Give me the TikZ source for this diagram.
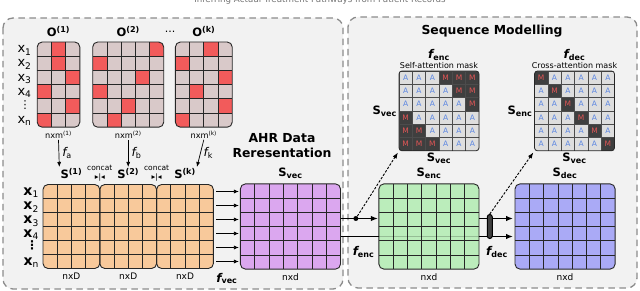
\documentclass[tikz,border=0pt]{standalone}
\usepackage{fontspec}
\setmainfont{DejaVu Sans}
\usepackage{xcolor}
\usepackage{tikz}
\usetikzlibrary{arrows.meta, positioning, calc}

\definecolor{panelfill}{HTML}{F2F2F2}
\definecolor{obase}{HTML}{D9C9C9}
\definecolor{ohot}{HTML}{F25B5B}
\definecolor{sorange}{HTML}{F8C99B}
\definecolor{vpurple}{HTML}{DBA7EF}
\definecolor{egreen}{HTML}{BBEDBB}
\definecolor{dblue}{HTML}{AAAAF6}
\definecolor{opengray}{HTML}{DEDEDE}
\definecolor{maskgray}{HTML}{3F3F3F}
\definecolor{openletter}{HTML}{5A85E2}
\definecolor{maskletter}{HTML}{E25656}

% inner grid lines of a matrix node: name, columns, rows, cell width, cell height
\newcommand{\cellgrid}[5]{%
  \pgfmathtruncatemacro\gridcols{#2-1}%
  \pgfmathtruncatemacro\gridrows{#3-1}%
  \foreach \i in {1,...,\gridcols}
    \draw[gridline] ([xshift=\i*#4]#1.north west) -- ([xshift=\i*#4]#1.south west);
  \foreach \j in {1,...,\gridrows}
    \draw[gridline] ([yshift=-\j*#5]#1.north west) -- ([yshift=-\j*#5]#1.north east);
}
% one red cell of an O matrix: name, column, row
\newcommand{\hotcell}[3]{\fill[ohot] ([shift={(#2*14.2,#3*14.2)}]#1.north west) rectangle ++(14.2,14.2);}

\begin{document}
\begin{tikzpicture}[x=1pt, y=-1pt,
    panel/.style={draw=black!45, fill=panelfill, line width=1.3pt, dash pattern=on 6.5pt off 4.5pt, rounded corners=10pt},
    mat/.style={inner sep=0pt, outer sep=0pt, rounded corners=5pt},
    border/.style={draw=black!85, line width=0.9pt, rounded corners=5pt},
    gridline/.style={black!85, line width=0.75pt},
    big/.style={font=\fontsize{11.5}{13}\selectfont\bfseries, inner sep=1pt},
    head/.style={font=\fontsize{12.4}{15}\selectfont\bfseries, align=center, inner sep=0pt},
    rowlbl/.style={font=\fontsize{13}{14}\selectfont, inner sep=0pt, anchor=base east},
    vdot/.style={font=\fontsize{11}{11}\selectfont, inner sep=0pt},
    dim/.style={font=\fontsize{9}{10}\selectfont, inner sep=1pt},
    tiny/.style={font=\fontsize{7.5}{8.5}\selectfont, inner sep=0.5pt, align=center},
    flbl/.style={font=\fontsize{12}{13}\selectfont, inner sep=1pt},
    opencell/.style={draw=black!70, line width=0.5pt, fill=opengray, text=openletter, minimum size=13.3pt, inner sep=0pt, font=\fontsize{7.5}{8}\selectfont},
    maskedcell/.style={opencell, fill=maskgray, text=maskletter},
    farr/.style={-{Latex[length=5pt, width=4pt]}, line width=0.7pt},
    arr/.style={-{Latex[length=7pt, width=5.5pt]}, line width=1.3pt},
    dasharr/.style={-{Latex[length=6pt, width=4.5pt]}, line width=0.9pt, dash pattern=on 2.5pt off 1.5pt},
    dot/.style={circle, fill=black, inner sep=0pt, minimum size=5pt},
    gate/.style={draw=black, fill=black!75, line width=1pt, rounded corners=2.5pt, minimum width=5pt, minimum height=24pt, inner sep=0pt}]

  \useasboundingbox (0,0) rectangle (640,291);
  \node[font=\fontsize{8.7}{10}\selectfont, text=black!55, anchor=base] (caption) at (320,3) {Inferring Actual Treatment Pathways from Patient Records};

  % panels
  \draw[panel] (3,18) rectangle (343,289);
  \draw[panel] (348,17) rectangle (637,288);

  % one-hot matrices O
  \node[mat, fill=obase, minimum width=42.6, minimum height=85.2] (o1) at (58.5,84.6) {};
  \node[mat, fill=obase, minimum width=71, minimum height=85.2, right=12.9pt of o1] (o2) {};
  \node[mat, fill=obase, minimum width=56.8, minimum height=85.2, right=11.7pt of o2] (ok) {};
  \begin{scope}
    \clip[rounded corners=5pt] (o1.north west) rectangle (o1.south east);
    \foreach \c/\r in {1/0,1/1,2/2,0/3,2/4,0/5} \hotcell{o1}{\c}{\r};
  \end{scope}
  \begin{scope}
    \clip[rounded corners=5pt] (o2.north west) rectangle (o2.south east);
    \foreach \c/\r in {4/0,0/1,3/2,0/3,2/4,1/5} \hotcell{o2}{\c}{\r};
  \end{scope}
  \begin{scope}
    \clip[rounded corners=5pt] (ok.north west) rectangle (ok.south east);
    \foreach \c/\r in {2/0,0/1,3/2,1/3,3/4,0/5} \hotcell{ok}{\c}{\r};
  \end{scope}
  \cellgrid{o1}{3}{6}{14.2}{14.2}
  \cellgrid{o2}{5}{6}{14.2}{14.2}
  \cellgrid{ok}{4}{6}{14.2}{14.2}
  \foreach \m in {o1,o2,ok}
    \draw[border] (\m.north west) rectangle (\m.south east);

  \node[big, above=4pt of o1] (o1lbl) {O\textsuperscript{(1)}};
  \node[big, above=4pt of o2] (o2lbl) {O\textsuperscript{(2)}};
  \node[big, above=4pt of ok] (oklbl) {O\textsuperscript{(k)}};
  \node[font=\fontsize{11}{12}\selectfont] (odots) at (170,32) {...};
  \node[dim, font=\fontsize{8.2}{9}\selectfont, below=3pt of o1] (o1dim) {nxm\textsuperscript{(1)}};
  \node[dim, font=\fontsize{8.2}{9}\selectfont, below=3pt of o2] (o2dim) {nxm\textsuperscript{(2)}};
  \node[dim, font=\fontsize{8.2}{9}\selectfont, below=3pt of ok] (okdim) {nxm\textsuperscript{(k)}};
  \foreach \k/\t in {0/1,1/2,2/3,3/4,5/n}
    \node[rowlbl] (ox\t) at ([shift={(-5.5,\k*14.2+10.7)}]o1.north west) {x\textsubscript{\t}};
  \node[vdot] (oxdots) at ([shift={(-12,63.5)}]o1.north west) {⋮};

  % embedded blocks S
  \node[mat, fill=sorange, minimum width=56.8, minimum height=84] (s1) at (71.4,226.5) {};
  \node[mat, fill=sorange, minimum width=56.8, minimum height=84, right=0pt of s1] (s2) {};
  \node[mat, fill=sorange, minimum width=56.8, minimum height=84, right=0pt of s2] (s3) {};
  \foreach \m in {s1,s2,s3} {
    \cellgrid{\m}{4}{6}{14.2}{14}
    \draw[border] (\m.north west) rectangle (\m.south east);
  }
  \node[big, above=4.5pt of s1] (s1lbl) {S\textsuperscript{(1)}};
  \node[big, above=4.5pt of s2] (s2lbl) {S\textsuperscript{(2)}};
  \node[big, above=4.5pt of s3] (s3lbl) {S\textsuperscript{(k)}};
  \node[tiny, above=3pt of s1.north east] (cat1) {concat\\▸|◂};
  \node[tiny, above=3pt of s2.north east] (cat2) {concat\\▸|◂};
  \node[dim, below=3pt of s1] (s1dim) {nxD};
  \node[dim, below=3pt of s2] (s2dim) {nxD};
  \node[dim, below=3pt of s3] (s3dim) {nxD};
  \foreach \k/\t in {0/1,1/2,2/3,3/4,5/n}
    \node[rowlbl] (sx\t) at ([shift={(-4,\k*14+10.9)}]s1.north west) {{\fontsize{14}{15}\selectfont\bfseries x}\textsubscript{\t}};
  \node[vdot, font=\fontsize{12}{12}\selectfont\bfseries] (sxdots) at ([shift={(-11,61)}]s1.north west) {⋮};

  \draw[farr] (o1dim.south) -- node[flbl, right=2pt] (fa) {{\itshape f}\textsubscript{a}} (s1lbl.north west);
  \draw[farr] (o2dim.south) -- node[flbl, right=2pt] (fb) {{\itshape f}\textsubscript{b}} (o2dim.south |- s2lbl.north);
  \draw[farr] (okdim.south) -- node[flbl, right=2pt] (fk) {{\itshape f}\textsubscript{k}} (s3lbl.north east);

  % AHR representation
  \node[mat, fill=vpurple, minimum width=100.1, minimum height=85.2, right=27pt of s3] (svec) {};
  \cellgrid{svec}{7}{6}{14.3}{14.2}
  \draw[border] (svec.north west) rectangle (svec.south east);
  \node[big, above=4pt of svec] (sveclbl) {S\textsubscript{vec}};
  \node[dim, below=3pt of svec] (svecdim) {nxd};
  \node[head] (ahr) at (282,146) {AHR Data\\Reresentation};
  \foreach \k in {0,...,5} {
    \coordinate (vrow\k) at ([yshift=-\k*14-7]s3.north east);
    \draw[farr, shorten <=3pt, shorten >=1.5pt] (vrow\k) -- (vrow\k -| svec.west);
  }
  \path (s3.south east) -- (svec.south west) node[flbl, midway, below=3pt] (fvec) {{\bfseries\itshape f}\textsubscript{\bfseries vec}};

  % sequence modelling
  \node[head] (seq) at (492,31) {Sequence Modelling};
  \node[mat, fill=egreen, minimum width=100.1, minimum height=85.2, right=38.4pt of svec] (senc) {};
  \node[mat, fill=dblue, minimum width=100.1, minimum height=85.2, right=36pt of senc] (sdec) {};
  \foreach \m in {senc,sdec} {
    \cellgrid{\m}{7}{6}{14.3}{14.2}
    \draw[border] (\m.north west) rectangle (\m.south east);
  }
  \node[big, above=4pt of senc] (senclbl) {S\textsubscript{enc}};
  \node[big, above=4pt of sdec] (sdeclbl) {S\textsubscript{dec}};
  \node[dim, below=3pt of senc] (sencdim) {nxd};
  \node[dim, below=3pt of sdec] (sdecdim) {nxd};

  % attention masks
  \node[mat, minimum width=80, minimum height=79.8] (sa) at (439,110.9) {};
  \node[mat, minimum width=80, minimum height=79.8] (ca) at (574.5,110.9) {};
  \begin{scope}
    \clip[rounded corners=3pt] (sa.north west) rectangle (sa.south east);
    \foreach \r in {0,...,5}
      \foreach \c in {0,...,5} {
        \pgfmathtruncatemacro\cellgap{abs(\c-\r)}
        \ifnum\cellgap>2
          \node[maskedcell] (sa-\r-\c) at ([shift={(\c*13.33+6.67,\r*13.3+6.65)}]sa.north west) {M};
        \else
          \node[opencell] (sa-\r-\c) at ([shift={(\c*13.33+6.67,\r*13.3+6.65)}]sa.north west) {A};
        \fi
      }
  \end{scope}
  \begin{scope}
    \clip[rounded corners=3pt] (ca.north west) rectangle (ca.south east);
    \foreach \r in {0,...,5}
      \foreach \c in {0,...,5} {
        \ifnum\r=\c
          \node[maskedcell] (ca-\r-\c) at ([shift={(\c*13.33+6.67,\r*13.3+6.65)}]ca.north west) {M};
        \else
          \node[opencell] (ca-\r-\c) at ([shift={(\c*13.33+6.67,\r*13.3+6.65)}]ca.north west) {A};
        \fi
      }
  \end{scope}
  \draw[border, rounded corners=3pt, line width=0.8pt] (sa.north west) rectangle (sa.south east);
  \draw[border, rounded corners=3pt, line width=0.8pt] (ca.north west) rectangle (ca.south east);
  \node[tiny, font=\fontsize{8}{9}\selectfont, above=2pt of sa] (sacap) {Self-attention mask};
  \node[tiny, font=\fontsize{8}{9}\selectfont, above=2pt of ca] (cacap) {Cross-attention mask};
  \node[flbl, above=0pt of sacap] (saf) {{\bfseries\itshape f}\textsubscript{\bfseries enc}};
  \node[flbl, above=0pt of cacap] (caf) {{\bfseries\itshape f}\textsubscript{\bfseries dec}};
  \node[big, left=1pt of sa] (saleft) {S\textsubscript{vec}};
  \node[big, left=1pt of ca] (caleft) {S\textsubscript{enc}};
  \node[big, below=1pt of sa] (sabelow) {S\textsubscript{vec}};
  \node[big, below=1pt of ca] (cabelow) {S\textsubscript{vec}};

  % encoder / decoder connectors
  \coordinate (upin) at ([yshift=8pt]svec.east);
  \coordinate (lowin) at ([yshift=-10pt]svec.east);
  \coordinate (gatec) at ($(senc.east)!0.3!(sdec.west)$);
  \draw[arr, shorten >=1pt] (upin) -- (upin -| senc.west);
  \draw[line width=1.3pt] (lowin) -- (lowin -| senc.west);
  \draw[line width=1.3pt, draw opacity=.2] (lowin -| senc.west) -- (lowin -| senc.east);
  \draw[line width=1.3pt] (lowin -| senc.east) -- (lowin -| gatec);
  \draw[arr, shorten >=2pt] (upin -| senc.east) -- (upin -| sdec.west);
  \draw[arr, shorten >=2pt] (lowin -| gatec) -- (lowin -| sdec.west);
  \node[dot] (split) at ($(upin)!0.4!(upin -| senc.west)$) {};
  \node[gate] (gate) at (gatec) {};
  \draw[dasharr, shorten >=2pt] (split) -- (sa.south west);
  \draw[dasharr, shorten >=2pt] (gate.north) -- (ca.south west);
  \path (lowin) -- (lowin -| senc.west) node[flbl, pos=0.6, below=9pt] (fenc) {{\bfseries\itshape f}\textsubscript{\bfseries enc}};
  \path (lowin -| senc.east) -- (lowin -| sdec.west) node[flbl, midway, below=9pt] (fdec) {{\bfseries\itshape f}\textsubscript{\bfseries dec}};
\end{tikzpicture}
\end{document}
